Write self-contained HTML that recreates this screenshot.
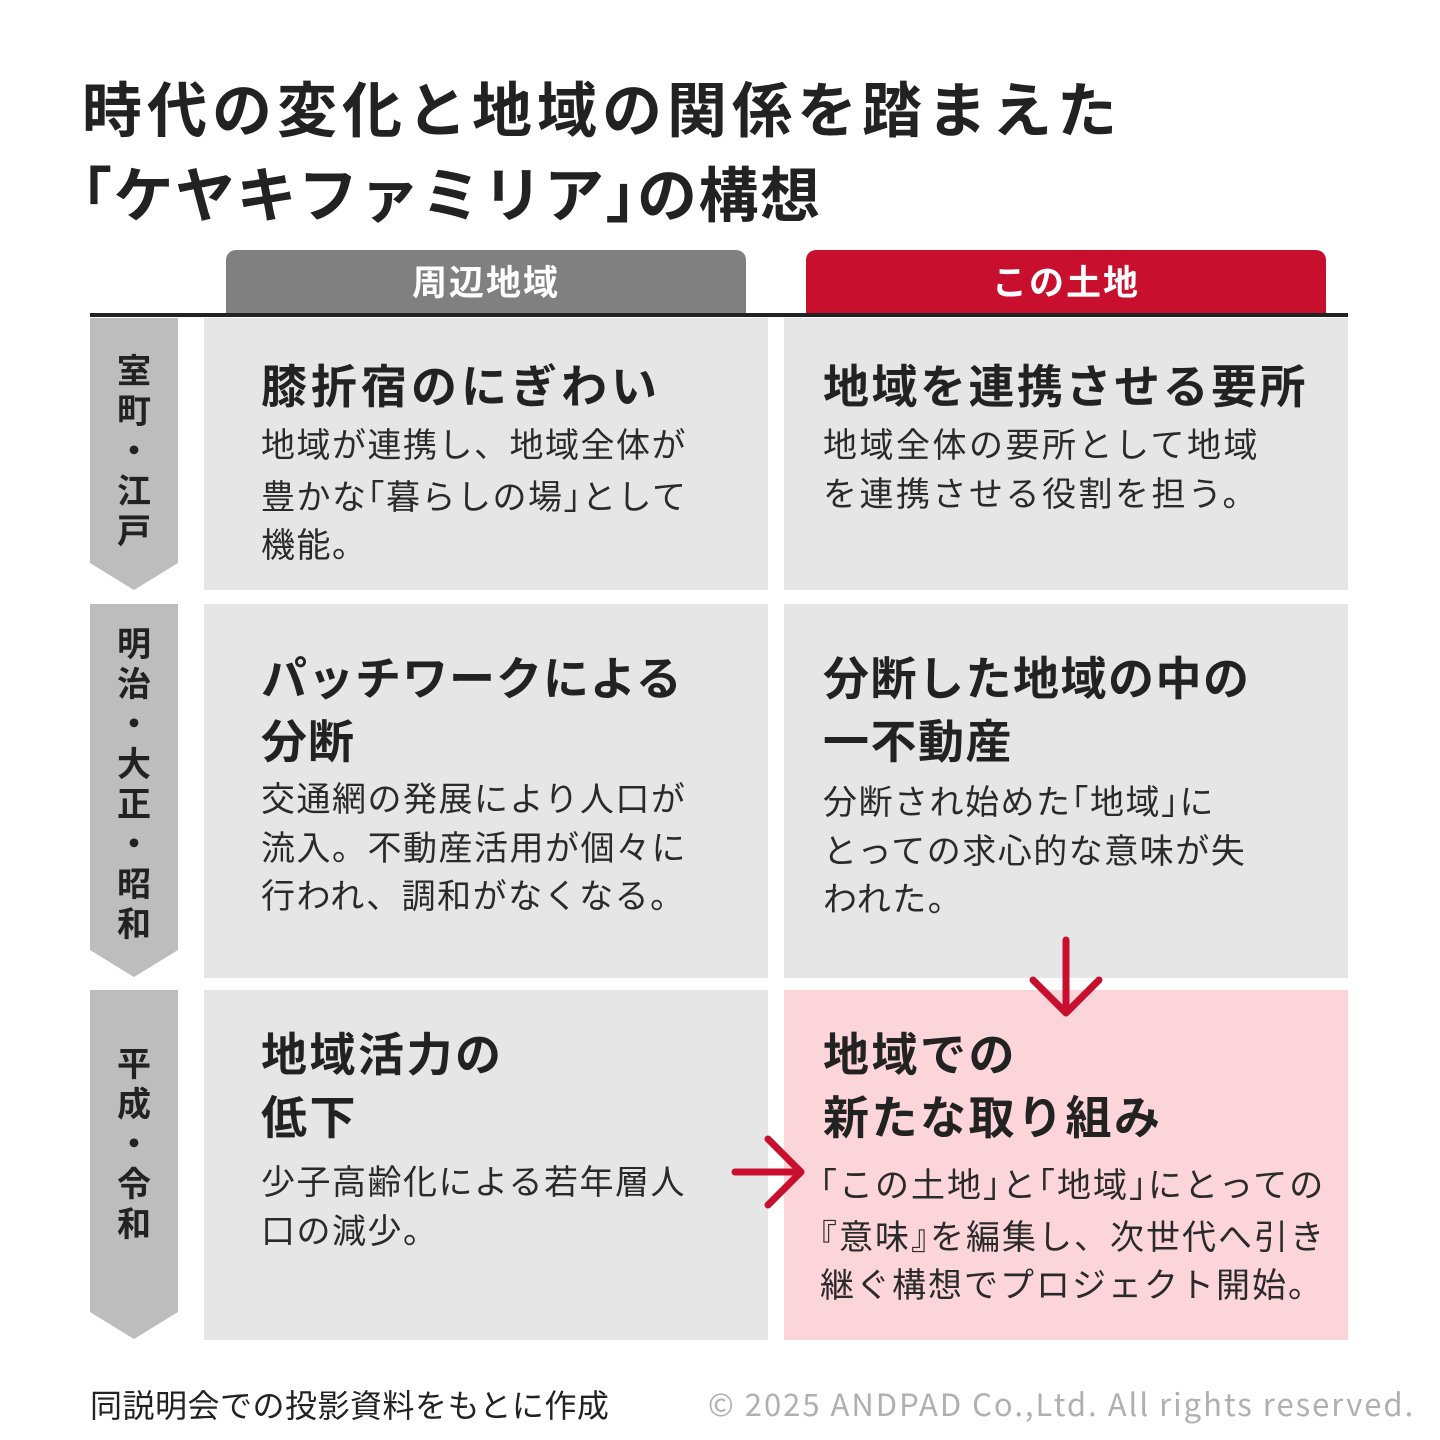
<!DOCTYPE html>
<html><head><meta charset="utf-8"><style>
*{margin:0;padding:0;box-sizing:border-box}
body{width:1440px;height:1440px;background:#fff;position:relative;overflow:hidden;font-family:"Liberation Sans","Noto Sans CJK JP",sans-serif;color:#222}
.a{position:absolute;white-space:nowrap}
.k{font-feature-settings:"halt";font-family:"Noto Sans CJK JP",sans-serif}
.title{left:82px;top:72px;font-size:60px;font-weight:700;line-height:80px;letter-spacing:5px}
.tab{position:absolute;top:250px;height:65px;border-radius:10px 10px 0 0;color:#fff;font-size:35px;font-weight:700;text-align:center;line-height:68px;letter-spacing:2px}
.cell{position:absolute;background:#e6e6e6}
.h{position:absolute;font-size:46px;font-weight:700;line-height:63px;white-space:nowrap;letter-spacing:2.5px}
.b{position:absolute;font-size:34px;line-height:48.5px;white-space:nowrap;color:#2a2a2a;letter-spacing:1.5px}
.v{position:absolute;left:90px;width:88px;text-align:center;font-size:34px;font-weight:700;line-height:40px}
</style></head><body>
<div class="a title">時代の変化と地域の関係を踏まえた<br><span style="letter-spacing:1.5px"><span class="k">「</span>ケヤキファミリア<span class="k">」</span>の構想</span></div>
<div class="tab" style="left:226px;width:520px;background:#808080">周辺地域</div>
<div class="tab" style="left:806px;width:520px;background:#c8102e">この土地</div>
<div class="a" style="left:90px;top:313px;width:1258px;height:4px;background:#222"></div>

<svg class="a" style="left:90px;top:0" width="88" height="1440">
<polygon points="0,318 88,318 88,563 44,590 0,563" fill="#bdbdbd"/>
<polygon points="0,604 88,604 88,950 44,977 0,950" fill="#bdbdbd"/>
<polygon points="0,990 88,990 88,1312 44,1339 0,1312" fill="#bdbdbd"/>
</svg>
<div class="v" style="top:352px">室<br>町<br>・<br>江<br>戸</div>
<div class="v" style="top:625px">明<br>治<br>・<br>大<br>正<br>・<br>昭<br>和</div>
<div class="v" style="top:1045px">平<br>成<br>・<br>令<br>和</div>

<div class="cell" style="left:204px;top:318px;width:564px;height:272px"></div>
<div class="cell" style="left:784px;top:318px;width:564px;height:272px"></div>
<div class="cell" style="left:204px;top:604px;width:564px;height:374px"></div>
<div class="cell" style="left:784px;top:604px;width:564px;height:374px"></div>
<div class="cell" style="left:204px;top:990px;width:564px;height:350px"></div>
<div class="cell" style="left:784px;top:990px;width:564px;height:350px;background:#fbd5da"></div>

<div class="h" style="left:261px;top:356px;letter-spacing:4px">膝折宿のにぎわい</div>
<div class="b" style="left:261px;top:422px">地域が連携し、地域全体が<br>豊かな<span class="k">「</span>暮らしの場<span class="k">」</span>として<br>機能。</div>
<div class="h" style="left:823px;top:356px">地域を連携させる要所</div>
<div class="b" style="left:823px;top:422px;letter-spacing:2.5px">地域全体の要所として地域<br>を連携させる役割を担う。</div>

<div class="h" style="left:261px;top:648px;letter-spacing:1px">パッチワークによる<br>分断</div>
<div class="b" style="left:261px;top:776px">交通網の発展により人口が<br>流入。不動産活用が個々に<br>行われ、調和がなくなる。</div>
<div class="h" style="left:823px;top:648px;letter-spacing:1.5px">分断した地域の中の<br>一不動産</div>
<div class="b" style="left:823px;top:776px">分断され始めた<span class="k">「</span>地域<span class="k">」</span>に<br>とっての求心的な意味が失<br>われた。</div>

<div class="h" style="left:261px;top:1024px">地域活力の<br>低下</div>
<div class="b" style="left:261px;top:1159px">少子高齢化による若年層人<br>口の減少。</div>
<div class="h" style="left:823px;top:1024px">地域での<br>新たな取り組み</div>
<div class="b" style="left:820px;top:1159px;letter-spacing:2px"><span class="k">「</span>この土地<span class="k">」</span>と<span class="k">「</span>地域<span class="k">」</span>にとっての<br><span class="k">『</span>意味<span class="k">』</span>を編集し、次世代へ引き<br>継ぐ構想でプロジェクト開始。</div>

<svg class="a" style="left:0;top:0" width="1440" height="1440">
<g stroke="#c8102e" stroke-width="7" fill="none" stroke-linecap="round" stroke-linejoin="round">
<line x1="1066" y1="940" x2="1066" y2="1012"/>
<polyline points="1033,980 1066,1013 1099,980"/>
<line x1="735" y1="1172" x2="800" y2="1172"/>
<polyline points="768,1139 801,1172 768,1205"/>
</g>
</svg>

<div class="a" style="left:90px;top:1381px;font-size:32px;color:#222;letter-spacing:0.5px">同説明会での投影資料をもとに作成</div>
<div class="a" style="left:708px;top:1380px;font-size:31px;color:#b0b0b0;letter-spacing:2px;font-family:'Noto Sans CJK JP',sans-serif">© 2025 ANDPAD Co.,Ltd. All rights reserved.</div>
</body></html>
